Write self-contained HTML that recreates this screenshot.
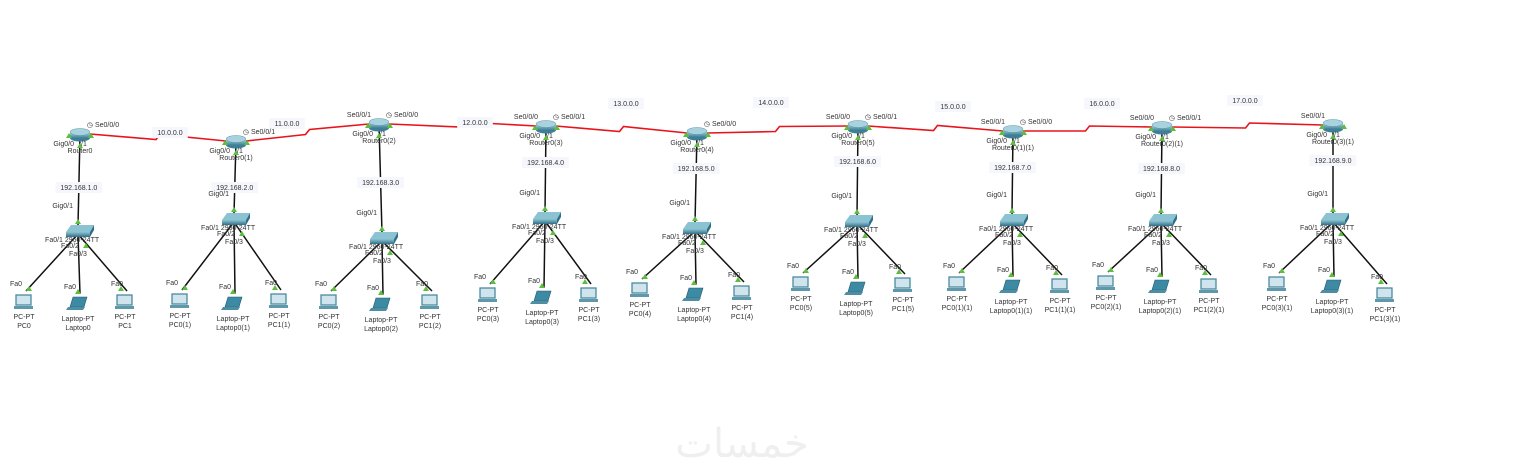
<!DOCTYPE html>
<html><head><meta charset="utf-8"><style>
html,body{margin:0;padding:0;background:#fff;width:1536px;height:472px;overflow:hidden}
svg text{font-family:"Liberation Sans",sans-serif;font-size:7px;fill:#333}
</style></head><body>
<svg id="s" width="1536" height="472" xmlns="http://www.w3.org/2000/svg">
<defs>
<linearGradient id="rg" x1="0" y1="0" x2="0" y2="1"><stop offset="0" stop-color="#b9dbe6"/><stop offset="1" stop-color="#3d7f96"/></linearGradient>
<linearGradient id="sg" x1="0" y1="0" x2="0" y2="1"><stop offset="0" stop-color="#8cc3d3"/><stop offset="1" stop-color="#2f6f86"/></linearGradient>
</defs>
<text x="742" y="457" text-anchor="middle" style="font-family:'DejaVu Sans',sans-serif;font-size:40px;fill:#efefef">خمسات</text>
</svg>
<script>
var S=document.getElementById('s'),NS='http://www.w3.org/2000/svg';
function el(t,a,txt){var e=document.createElementNS(NS,t);for(var k in a)e.setAttribute(k,a[k]);if(txt!=null)e.textContent=txt;S.appendChild(e);return e;}
function tx(x,y,s,anc,bg){if(bg){var w=s.length*3.7+6;el('rect',{x:x-w/2,y:y-8,width:w,height:11,fill:'#f6f7fc'});}el('text',{x:x,y:y,'text-anchor':anc||'middle'},s);}
function tri(x,y){el('polygon',{points:(x-3)+','+(y+2)+' '+(x+3)+','+(y+2)+' '+x+','+(y-3),fill:'#5cbf3c'});}
var R=[[80,134],[236,141],[379,124],[546,126],[697,133],[858,126],[1013,131],[1162,127],[1333,125]];
for(var i=0;i<8;i++){var a=R[i],b=R[i+1],mx=(a[0]+b[0])/2,my=(a[1]+b[1])/2;
el('polyline',{points:(a[0]+10)+','+a[1]+' '+(mx-2)+','+(my+2)+' '+(mx+2)+','+(my-3)+' '+(b[0]-10)+','+b[1],fill:'none',stroke:'#e8141b','stroke-width':1.6});}
var wl=[['10.0.0.0',170,135],['11.0.0.0',287,126],['12.0.0.0',475,125],['13.0.0.0',626,106],['14.0.0.0',771,105],['15.0.0.0',953,109],['16.0.0.0',1102,106],['17.0.0.0',1245,103]];
wl.forEach(function(w){tx(w[1],w[2],w[0],'middle',1);});
var C=[
[[80,134],[78,230],[[24,303],[78,306],[125,303]],190,'192.168.1.0',['PC0','Laptop0','PC1'],'Router0'],
[[236,141],[234,218],[[180,302],[233,306],[279,302]],190,'192.168.2.0',['PC0(1)','Laptop0(1)','PC1(1)'],'Router0(1)'],
[[379,124],[382,237],[[329,303],[381,307],[430,303]],185,'192.168.3.0',['PC0(2)','Laptop0(2)','PC1(2)'],'Router0(2)'],
[[546,126],[545,217],[[488,296],[542,300],[589,296]],165,'192.168.4.0',['PC0(3)','Laptop0(3)','PC1(3)'],'Router0(3)'],
[[697,133],[695,227],[[640,291],[694,297],[742,294]],171,'192.168.5.0',['PC0(4)','Laptop0(4)','PC1(4)'],'Router0(4)'],
[[858,126],[857,220],[[801,285],[856,291],[903,286]],164,'192.168.6.0',['PC0(5)','Laptop0(5)','PC1(5)'],'Router0(5)'],
[[1013,131],[1012,219],[[957,285],[1011,289],[1060,287]],170,'192.168.7.0',['PC0(1)(1)','Laptop0(1)(1)','PC1(1)(1)'],'Router0(1)(1)'],
[[1162,127],[1161,219],[[1106,284],[1160,289],[1209,287]],171,'192.168.8.0',['PC0(2)(1)','Laptop0(2)(1)','PC1(2)(1)'],'Router0(2)(1)'],
[[1333,125],[1333,218],[[1277,285],[1332,289],[1385,296]],163,'192.168.9.0',['PC0(3)(1)','Laptop0(3)(1)','PC1(3)(1)'],'Router0(3)(1)']];
var ser=[['','Se0/0/0'],['','Se0/0/1'],['Se0/0/1','Se0/0/0'],['Se0/0/0','Se0/0/1'],['','Se0/0/0'],['Se0/0/0','Se0/0/1'],['Se0/0/1','Se0/0/0'],['Se0/0/0','Se0/0/1'],['Se0/0/1','']];
C.forEach(function(c,ci){var r=c[0],s=c[1];
el('line',{x1:r[0],y1:r[1],x2:s[0],y2:s[1]-4,stroke:'#111','stroke-width':1.5});
c[2].forEach(function(p){el('line',{x1:s[0],y1:s[1]+4,x2:p[0]+2,y2:p[1]-12,stroke:'#111','stroke-width':1.5});});
el('ellipse',{cx:r[0],cy:r[1]+4,rx:10,ry:3.5,fill:'#3d7f96'});el('rect',{x:r[0]-10,y:r[1]-2,width:20,height:6,fill:'url(#rg)'});el('ellipse',{cx:r[0],cy:r[1]-2,rx:10,ry:3.5,fill:'#a9d2df',stroke:'#5d97aa','stroke-width':.5});
tri(r[0]-11,r[1]+2);tri(r[0]+11,r[1]+2);tri(r[0],r[1]+12);
var sv=ser[ci];if(sv[0])tx(r[0]-20,r[1]-7,sv[0],'middle');if(sv[1])tx(r[0]+23,r[1]-7,'◷ '+sv[1],'middle');
tx(r[0]-6,r[1]+12,'Gig0/0','end');tx(r[0]+1,r[1]+12,'/1','start');tx(r[0],r[1]+19,c[6]);
tx(r[0]+(s[0]-r[0])*((c[3]-r[1])/(s[1]-r[1])),c[3],c[4],'middle',1);
tri(s[0],s[1]-8);tx(s[0]-5,s[1]-22,'Gig0/1','end');
el('polygon',{points:(s[0]-12)+','+(s[1]+2)+' '+(s[0]+12)+','+(s[1]+2)+' '+(s[0]+16)+','+(s[1]-5)+' '+(s[0]-7)+','+(s[1]-5),fill:'#8cc3d3'});
el('rect',{x:s[0]-12,y:s[1]+2,width:24,height:5,fill:'url(#sg)'});el('polygon',{points:(s[0]+12)+','+(s[1]+2)+' '+(s[0]+16)+','+(s[1]-5)+' '+(s[0]+16)+','+s[1]+' '+(s[0]+12)+','+(s[1]+7),fill:'#2f6f86'});
tx(s[0]+4,s[1]+12,'2960-24TT');tx(s[0]-24,s[1]+12,'Fa0/1');tx(s[0]-8,s[1]+18,'Fa0/2');tx(s[0],s[1]+26,'Fa0/3');tri(s[0]+8,s[1]+16);
c[2].forEach(function(p,k){var lap=k==1;tri(p[0]+(k==2?-4:(k==0?5:0)),p[1]-14);tx(p[0]-8,p[1]-17,'Fa0');
if(lap){el('polygon',{points:(p[0]-5)+','+(p[1]-9)+' '+(p[0]+9)+','+(p[1]-9)+' '+(p[0]+6)+','+(p[1]+1)+' '+(p[0]-8)+','+(p[1]+1),fill:'#3c8aa3',stroke:'#245c70','stroke-width':.6});el('polygon',{points:(p[0]-10)+','+(p[1]+1)+' '+(p[0]+7)+','+(p[1]+1)+' '+(p[0]+5)+','+(p[1]+4)+' '+(p[0]-12)+','+(p[1]+4),fill:'#4d8ea3'});}
else{el('rect',{x:p[0]-8,y:p[1]-8,width:15,height:10,fill:'#cfe4ec',stroke:'#4a8aa0','stroke-width':1.3});el('rect',{x:p[0]-10,y:p[1]+3,width:19,height:3,fill:'#5f98ab'});}
var y0=p[1]+(lap?15:16);tx(p[0],y0,lap?'Laptop-PT':'PC-PT');tx(p[0],y0+9,c[5][k]);});
});
</script>
</body></html>
